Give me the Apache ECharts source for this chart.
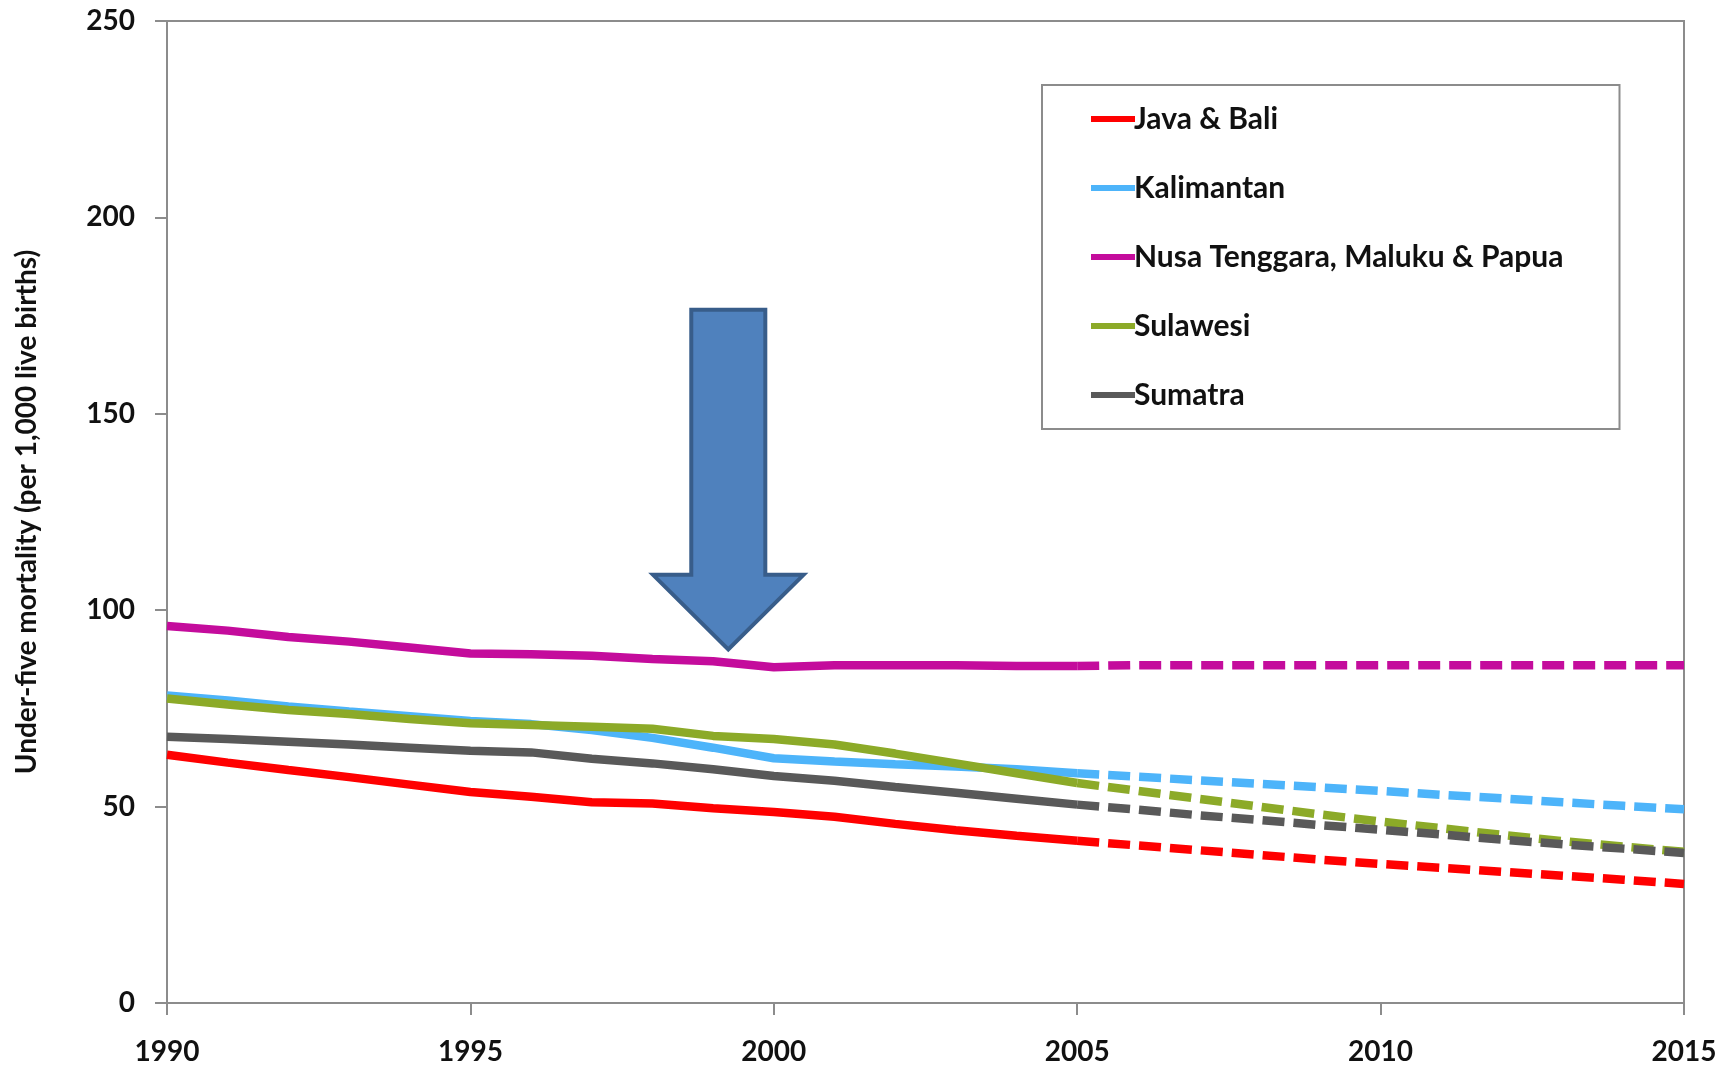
<!DOCTYPE html>
<html>
<head>
<meta charset="utf-8">
<script src="https://cdn.jsdelivr.net/npm/echarts@6/dist/echarts.min.js"></script>
<style>
html,body{margin:0;padding:0;background:#fff;}
#chart{width:1729px;height:1066px;}
</style>
</head>
<body>
<div id="chart"></div>
<script>
// ---- data ----
const yearsObserved = [1990,1991,1992,1993,1994,1995,1996,1997,1998,1999,2000,2001,2002,2003,2004,2005];
const yearsProjected = [2005,2006,2007,2008,2009,2010,2011,2012,2013,2014,2015];
const regionNames = ['Java & Bali','Kalimantan','Nusa Tenggara, Maluku & Papua','Sulawesi','Sumatra'];

const javaBaliObs = [63.2,61.2,59.3,57.5,55.6,53.7,52.5,51.1,50.8,49.6,48.6,47.4,45.6,44.0,42.6,41.3];
const javaBaliProj = [41.3,40.1,38.9,37.7,36.5,35.4,34.4,33.4,32.4,31.4,30.3];

const kalimantanObs = [78.3,77.0,75.5,74.2,73.0,71.8,71.0,69.5,67.5,65.0,62.3,61.5,60.8,60.2,59.5,58.5];
const kalimantanProj = [58.5,57.6,56.7,55.8,54.9,54.0,53.0,52.1,51.1,50.2,49.3];

const nusaObs = [96.0,94.8,93.2,92.0,90.5,89.0,88.8,88.4,87.6,87.0,85.5,86.0,86.0,86.0,85.8,85.8];
const nusaProj = [85.8,86.0,86.0,86.0,86.0,86.0,86.0,86.0,86.0,86.0,86.0];

const sulawesiObs = [77.5,76.0,74.6,73.6,72.3,71.2,70.8,70.3,69.8,68.0,67.2,65.8,63.5,61.0,58.5,56.0];
const sulawesiProj = [56.0,54.0,52.0,50.0,48.0,46.2,44.5,42.8,41.2,39.8,38.5];

const sumatraObs = [67.8,67.2,66.5,65.8,65.0,64.2,63.8,62.2,61.0,59.5,57.8,56.6,55.0,53.5,52.0,50.5];
const sumatraProj = [50.5,49.2,47.8,46.6,45.3,44.1,42.9,41.6,40.4,39.3,38.2];

const xTicks = [1990,1995,2000,2005,2010,2015];

// annotation arrow, in data units (year, mortality)
const arrowTip = [1999.25, 90];
const arrowHeadBase = 109;
const arrowTop = 176.5;
const arrowShaftHalf = 0.61;
const arrowWingHalf = 1.24;

// ---- build ----
const colors = ['#FF0000','#4DB4FA','#C40C9C','#8CAA28','#595959'];
const obs = [javaBaliObs,kalimantanObs,nusaObs,sulawesiObs,sumatraObs];
const proj = [javaBaliProj,kalimantanProj,nusaProj,sulawesiProj,sumatraProj];
const zip = (xs, ys) => xs.map((x,i)=>[x, ys[i]]);

const FONT = 'Lato, "Open Sans", sans-serif';
const series = [];
regionNames.forEach((name,i)=>{
  series.push({
    name, type:'line', data: zip(yearsObserved, obs[i]), symbol:'none', smooth:false,
    lineStyle:{color:colors[i], width:8.5}, itemStyle:{color:colors[i]}, z: 2+i
  });
  series.push({
    name, type:'line', data: zip(yearsProjected, proj[i]), symbol:'none',
    lineStyle:{color:colors[i], width:8.5, type:[22,9]}, itemStyle:{color:colors[i]}, z: 2+i
  });
});

series.push({
  type:'custom', silent:true, z:20, clip:false,
  data:[[arrowTip[0], arrowTip[1]]],
  renderItem:function(params, api){
    const cx = arrowTip[0];
    const pts = [
      [cx-arrowShaftHalf, arrowTop],
      [cx+arrowShaftHalf, arrowTop],
      [cx+arrowShaftHalf, arrowHeadBase],
      [cx+arrowWingHalf, arrowHeadBase],
      [cx, arrowTip[1]],
      [cx-arrowWingHalf, arrowHeadBase],
      [cx-arrowShaftHalf, arrowHeadBase]
    ].map(p=>api.coord(p));
    return {type:'polygon', shape:{points:pts}, style:{fill:'#4F81BD', stroke:'#385D8A', lineWidth:4, lineJoin:'miter'}};
  }
});

const chart = echarts.init(document.getElementById('chart'));
chart.setOption({
  animation:false,
  backgroundColor:'#fff',
  textStyle:{fontFamily:FONT},
  grid:{left:167, right:45, top:21, bottom:61, show:true, borderColor:'#8C8C8C', borderWidth:2, backgroundColor:'transparent'},
  legend:{
    data: regionNames,
    orient:'vertical', left:1042, top:85,
    padding:[19,56,19,49],
    itemGap:39, itemWidth:44, itemHeight:6, icon:'rect',
    borderColor:'#8C8C8C', borderWidth:2, backgroundColor:'#fff',
    textStyle:{fontFamily:FONT, fontSize:30, fontWeight:'bold', color:'#111', padding:[0,0,0,-6], lineHeight:30}
  },
  xAxis:{
    type:'value', min:1990, max:2015, interval:5,
    axisLine:{show:true, lineStyle:{color:'#8C8C8C', width:2}},
    axisTick:{show:true, length:12, lineStyle:{color:'#8C8C8C', width:2}},
    splitLine:{show:false},
    axisLabel:{fontFamily:FONT, fontSize:28, fontWeight:'bold', color:'#111', margin:35,
      formatter: v => xTicks.includes(v) ? String(v) : ''}
  },
  yAxis:{
    type:'value', min:0, max:250, interval:50,
    name:'Under-five mortality (per 1,000 live births)',
    nameLocation:'middle', nameGap:126, nameRotate:90,
    nameTextStyle:{fontFamily:FONT, fontSize:28, fontWeight:'bold', color:'#111'},
    axisLine:{show:true, lineStyle:{color:'#8C8C8C', width:2}},
    axisTick:{show:true, length:12, lineStyle:{color:'#8C8C8C', width:2}},
    splitLine:{show:false},
    axisLabel:{fontFamily:FONT, fontSize:28, fontWeight:'bold', color:'#111', margin:32}
  },
  series
});
</script>
</body>
</html>
